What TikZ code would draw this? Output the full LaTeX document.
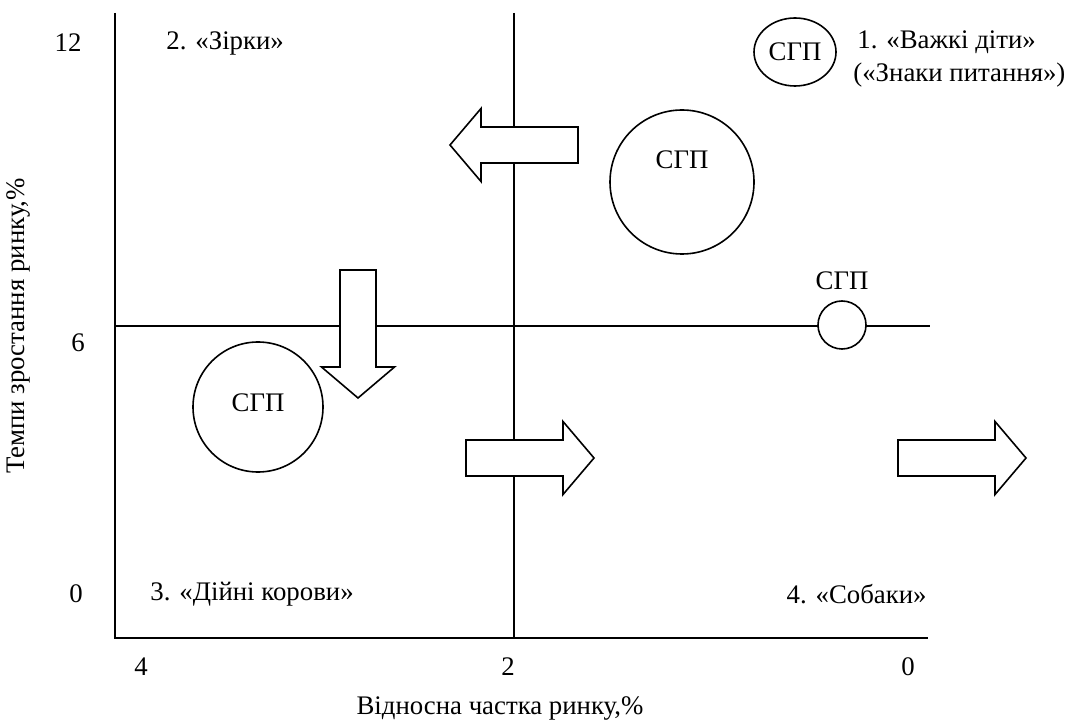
\documentclass[tikz,border=0pt]{standalone}
\usepackage{fontspec}
\setmainfont{Liberation Serif}
\usetikzlibrary{positioning,shapes.geometric}
\tikzset{font=\fontsize{13.4}{16}\selectfont}

\begin{document}
\begin{tikzpicture}[x=0.5pt,y=-0.5pt]
	\tikzset{
		every node/.style={inner sep=1pt},
		unit/.style={draw, circle, fill=white, line width=0.8pt, inner sep=0pt},
		shift arrow/.pic={
			\draw[line width=0.8pt, fill=white] (0,-18) -- (97,-18) -- (97,-36.5) -- (128,0) -- (97,36.5) -- (97,18) -- (0,18) -- cycle;
		}
	}
	\useasboundingbox (0,0) rectangle (1074,726);

	% axes and quadrant lines
	\coordinate (ytop) at (115,13);
	\coordinate (o) at (115,638);
	\coordinate (xend) at (928,638);
	\coordinate (vtop) at (514,13);
	\coordinate (vbot) at (514,638);
	\coordinate (hleft) at (115,326);
	\coordinate (hright) at (930,326);
	\draw[line width=0.8pt] (ytop) -- (o) -- (xend);
	\draw[line width=0.8pt] (vtop) -- (vbot);
	\draw[line width=0.8pt] (hleft) -- (hright);

	% shifts
	\pic[rotate=180] at (578,145) {shift arrow};
	\pic[rotate=-90] at (358,270) {shift arrow};
	\pic at (466,458) {shift arrow};
	\pic at (898,458) {shift arrow};

	% business units
	\node[unit, minimum size=72pt] (big) at (682,182) {};
	\node at (682,160) {СГП};
	\node[unit, minimum size=65pt] (cow) at (258,407) {};
	\node at (258,403) {СГП};
	\node[unit, minimum size=24pt] (dog) at (842,325) {};
	\node[above=4pt of dog] (doglbl) {СГП};
	\node[unit, ellipse, minimum width=41pt, minimum height=34pt] (child) at (795,52) {СГП};

	% quadrant names
	\node[anchor=west] (child1) at (855,42) {1. «Важкі діти»};
	\node[anchor=west] (child2) at (851,75) {(«Знаки питання»)};
	\node[anchor=west] (star) at (164,43) {2. «Зірки»};
	\node[anchor=west] (cows) at (148,594) {3. «Дійні корови»};
	\node[anchor=east] (dogs) at (929,594) {4. «Собаки»};

	% scale values
	\node (y12) at (68,43) {12};
	\node (y6) at (78,343) {6};
	\node (y0) at (76,594) {0};
	\node (x4) at (141,667) {4};
	\node (x2) at (508,667) {2};
	\node (x0) at (908,667) {0};

	% axis titles
	\node (xlabel) at (500,708) {Відносна частка ринку,\%};
	\node[rotate=90] (ylabel) at (18,326) {Темпи зростання ринку,\%};
\end{tikzpicture}
\end{document}
